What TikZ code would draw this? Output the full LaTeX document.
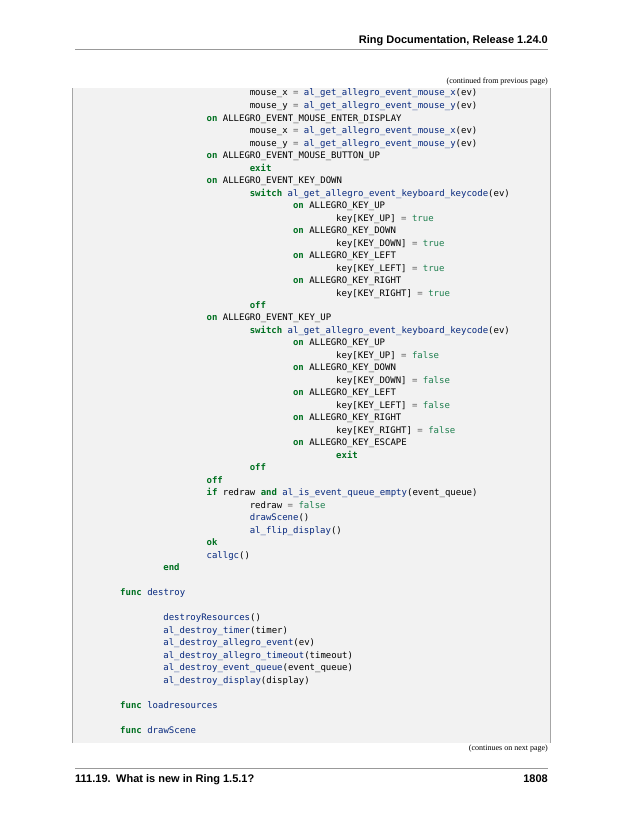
\documentclass[tikz,border=0pt]{standalone}
\usepackage{fontspec}
\setmainfont{Liberation Serif}
\setsansfont{Liberation Sans}
\setmonofont{DejaVu Sans Mono}
\definecolor{kwc}{HTML}{007020}
\definecolor{fnc}{HTML}{06287E}
\definecolor{opc}{HTML}{666666}
\definecolor{cnc}{HTML}{208050}
\newcommand\kw[1]{\textcolor{kwc}{\bfseries #1}}
\newcommand\fn[1]{\textcolor{fnc}{#1}}
\newcommand\op[1]{\textcolor{opc}{#1}}
\newcommand\cn[1]{\textcolor{cnc}{#1}}
\newcommand\cl[3]{\node[codetxt] (c#1) at ({120+#2*43.2},#1) {#3};}
\begin{document}
\begin{tikzpicture}[x=1pt,y=-1pt,
  codetxt/.style={anchor=base west,inner sep=0pt,font=\fontsize{9}{10}\ttfamily},
  hdr/.style={inner sep=0pt,font=\fontsize{11}{12}\sffamily\bfseries},
  cont/.style={inner sep=0pt,anchor=base east,font=\fontsize{8}{9}\selectfont}]
\useasboundingbox (0,0) rectangle (638,825);
\fill[white] (0,0) rectangle (638,825);
\node[hdr,anchor=base east] (head) at (548,43) {Ring Documentation, Release 1.24.0};
\draw[gray!80,line width=0.8] (75,49.5) -- (548,49.5);
\node[cont] (contfrom) at (548,83) {(continued from previous page)};
\fill[black!5] (72,88) rectangle (550,743);
\draw[gray!70,line width=0.7] (72,88) -- (72,743) (550,88) -- (550,743);
\cl{95}{3}{mouse\_x \op{=} \fn{al\_get\_allegro\_event\_mouse\_x}(ev)}
\cl{108}{3}{mouse\_y \op{=} \fn{al\_get\_allegro\_event\_mouse\_y}(ev)}
\cl{121}{2}{\kw{on} ALLEGRO\_EVENT\_MOUSE\_ENTER\_DISPLAY}
\cl{133}{3}{mouse\_x \op{=} \fn{al\_get\_allegro\_event\_mouse\_x}(ev)}
\cl{146}{3}{mouse\_y \op{=} \fn{al\_get\_allegro\_event\_mouse\_y}(ev)}
\cl{158}{2}{\kw{on} ALLEGRO\_EVENT\_MOUSE\_BUTTON\_UP}
\cl{171}{3}{\kw{exit}}
\cl{183}{2}{\kw{on} ALLEGRO\_EVENT\_KEY\_DOWN}
\cl{196}{3}{\kw{switch} \fn{al\_get\_allegro\_event\_keyboard\_keycode}(ev)}
\cl{208}{4}{\kw{on} ALLEGRO\_KEY\_UP}
\cl{221}{5}{key[KEY\_UP] \op{=} \cn{true}}
\cl{233}{4}{\kw{on} ALLEGRO\_KEY\_DOWN}
\cl{246}{5}{key[KEY\_DOWN] \op{=} \cn{true}}
\cl{258}{4}{\kw{on} ALLEGRO\_KEY\_LEFT}
\cl{271}{5}{key[KEY\_LEFT] \op{=} \cn{true}}
\cl{283}{4}{\kw{on} ALLEGRO\_KEY\_RIGHT}
\cl{296}{5}{key[KEY\_RIGHT] \op{=} \cn{true}}
\cl{308}{3}{\kw{off}}
\cl{320}{2}{\kw{on} ALLEGRO\_EVENT\_KEY\_UP}
\cl{333}{3}{\kw{switch} \fn{al\_get\_allegro\_event\_keyboard\_keycode}(ev)}
\cl{345}{4}{\kw{on} ALLEGRO\_KEY\_UP}
\cl{358}{5}{key[KEY\_UP] \op{=} \cn{false}}
\cl{370}{4}{\kw{on} ALLEGRO\_KEY\_DOWN}
\cl{383}{5}{key[KEY\_DOWN] \op{=} \cn{false}}
\cl{395}{4}{\kw{on} ALLEGRO\_KEY\_LEFT}
\cl{408}{5}{key[KEY\_LEFT] \op{=} \cn{false}}
\cl{420}{4}{\kw{on} ALLEGRO\_KEY\_RIGHT}
\cl{433}{5}{key[KEY\_RIGHT] \op{=} \cn{false}}
\cl{445}{4}{\kw{on} ALLEGRO\_KEY\_ESCAPE}
\cl{458}{5}{\kw{exit}}
\cl{470}{3}{\kw{off}}
\cl{483}{2}{\kw{off}}
\cl{495}{2}{\kw{if} redraw \kw{and} \fn{al\_is\_event\_queue\_empty}(event\_queue)}
\cl{508}{3}{redraw \op{=} \cn{false}}
\cl{520}{3}{\fn{drawScene}()}
\cl{533}{3}{\fn{al\_flip\_display}()}
\cl{545}{2}{\kw{ok}}
\cl{558}{2}{\fn{callgc}()}
\cl{570}{1}{\kw{end}}
\cl{595}{0}{\kw{func} \fn{destroy}}
\cl{620}{1}{\fn{destroyResources}()}
\cl{633}{1}{\fn{al\_destroy\_timer}(timer)}
\cl{645}{1}{\fn{al\_destroy\_allegro\_event}(ev)}
\cl{658}{1}{\fn{al\_destroy\_allegro\_timeout}(timeout)}
\cl{670}{1}{\fn{al\_destroy\_event\_queue}(event\_queue)}
\cl{683}{1}{\fn{al\_destroy\_display}(display)}
\cl{708}{0}{\kw{func} \fn{loadresources}}
\cl{733}{0}{\kw{func} \fn{drawScene}}
\node[cont] (contnext) at (548,750) {(continues on next page)};
\draw[gray!80,line width=0.8] (75,768.5) -- (548,768.5);
\node[hdr,anchor=base west] (foot) at (75,782) {111.19.\enspace What is new in Ring 1.5.1?};
\node[hdr,anchor=base east] (page) at (548,782) {1808};
\end{tikzpicture}
\end{document}
